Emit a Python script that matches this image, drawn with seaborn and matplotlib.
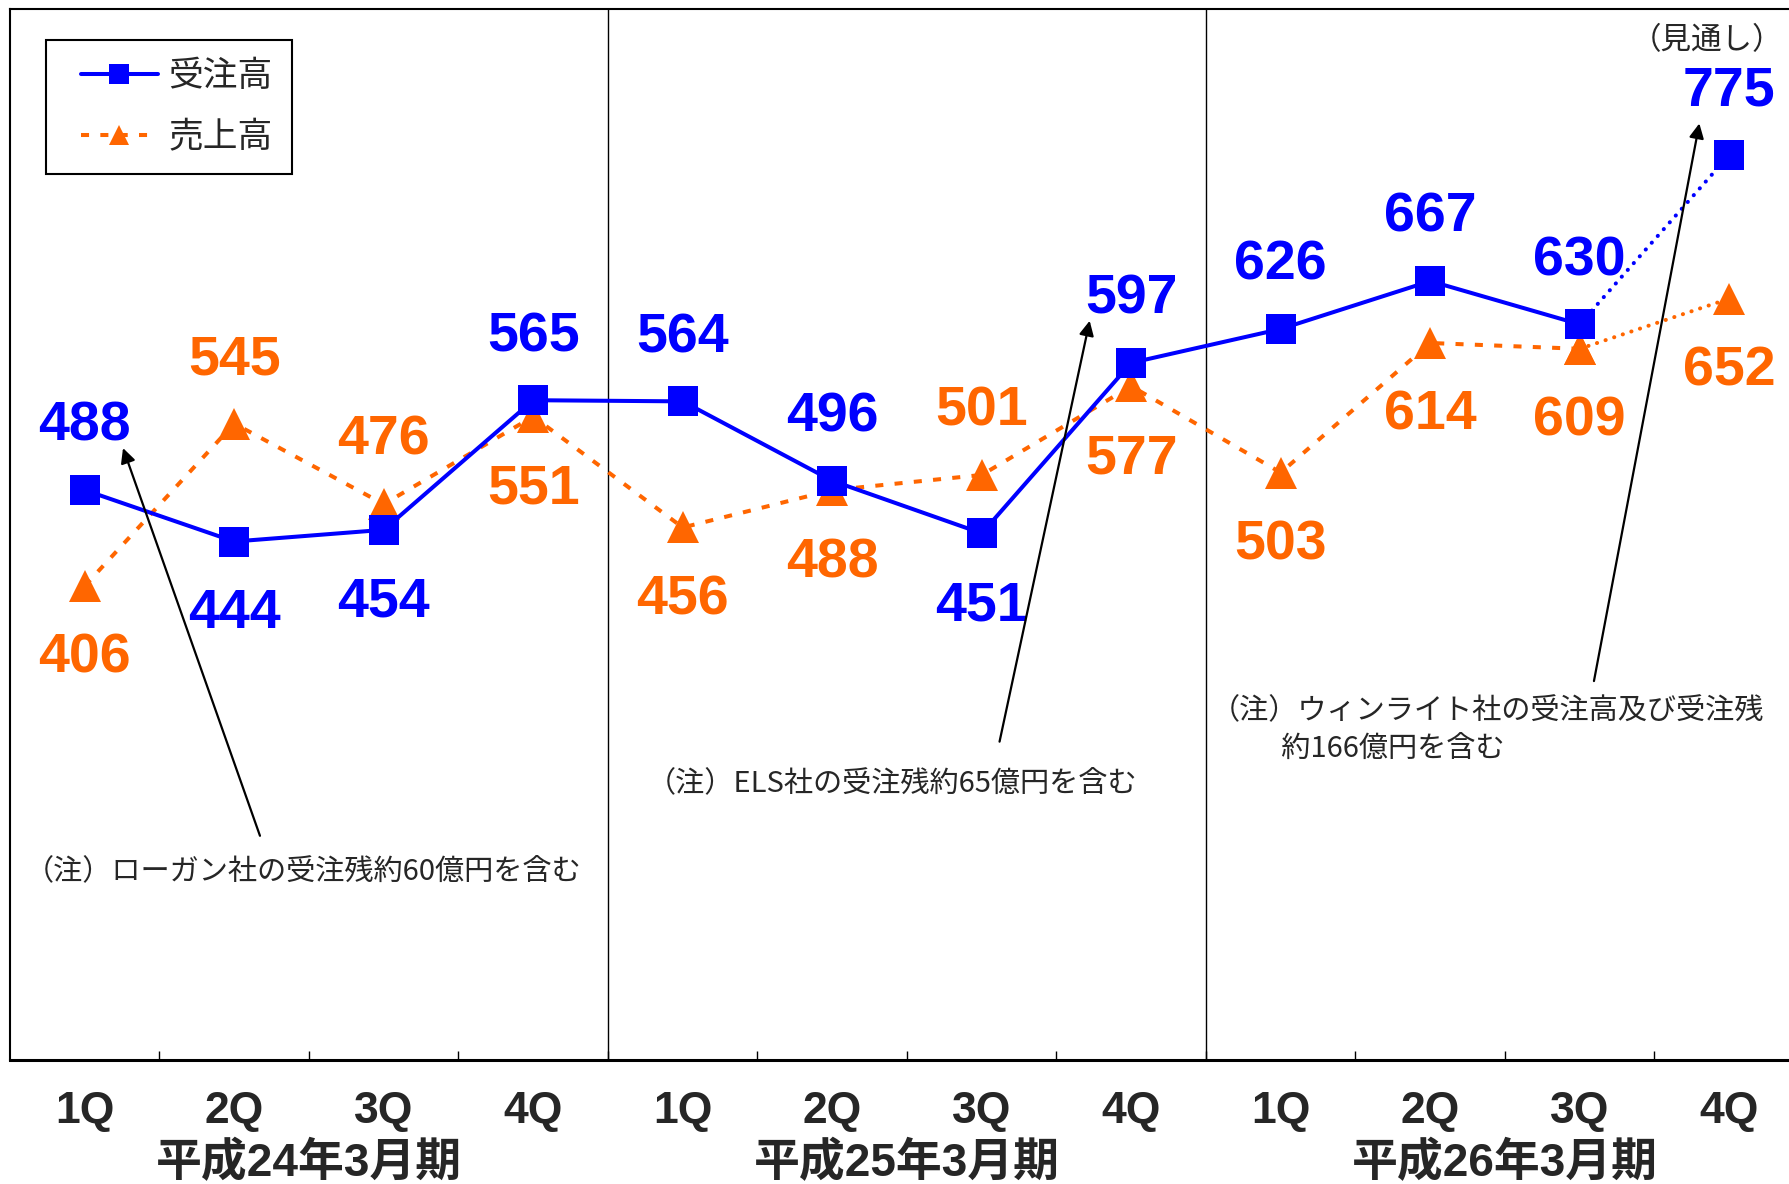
import matplotlib
matplotlib.use("Agg")
import matplotlib.pyplot as plt
from matplotlib.lines import Line2D
from matplotlib.legend_handler import HandlerLine2D
import seaborn as sns
import pandas as pd
import numpy as np

# ---------------- data ----------------
quarters = ["1Q", "2Q", "3Q", "4Q", "1Q", "2Q", "3Q", "4Q", "1Q", "2Q", "3Q", "4Q"]
periods = ["平成24年3月期", "平成25年3月期", "平成26年3月期"]
orders = [488, 444, 454, 565, 564, 496, 451, 597, 626, 667, 630, 775]   # 受注高
sales = [406, 545, 476, 551, 456, 488, 501, 577, 503, 614, 609, 652]    # 売上高
series_names = ["受注高", "売上高"]
forecast_label = "（見通し）"
notes = [
    "（注）ローガン社の受注残約60億円を含む",
    "（注）ELS社の受注残約65億円を含む",
    "（注）ウィンライト社の受注高及び受注残\n\u3000\u3000  約166億円を含む",
]

# ---------------- style ----------------
BLUE = "#0000FF"
ORANGE = "#FF6600"
LAT = ["Liberation Sans", "DejaVu Sans"]
CJK = ["Noto Sans CJK JP", "DejaVu Sans"]
MIX = ["Liberation Sans", "Noto Sans CJK JP", "DejaVu Sans"]

sns.set_style("white")
plt.rcParams["font.family"] = CJK

W, H = 1789, 1184
fig = plt.figure(figsize=(W / 100, H / 100), dpi=100)
ax = fig.add_axes([10 / W, 1 - 1060 / H, 1794 / W, 1051 / H])

x = np.arange(len(quarters))
df = pd.DataFrame({"x": x, "orders": orders, "sales": sales})
actual = df.iloc[:11]
forecast = df.iloc[10:]

lw = 2.9
# 受注高 (actual, solid)
sns.lineplot(data=actual, x="x", y="orders", ax=ax, color=BLUE, lw=lw,
             marker="s", ms=21, mec=BLUE, mew=0, label=series_names[0],
             legend=False, zorder=4)
# 受注高 forecast (dotted)
sns.lineplot(data=forecast, x="x", y="orders", ax=ax, color=BLUE, lw=lw,
             ls=(0, (0.05, 2.2)), dash_capstyle="round",
             marker="s", ms=21, mec=BLUE, mew=0, legend=False, zorder=4)
# 売上高 (actual, dashed)
sns.lineplot(data=actual, x="x", y="sales", ax=ax, color=ORANGE, lw=lw,
             ls=(0, (2.0, 2.8)), marker="^", ms=23, mec=ORANGE, mew=0,
             label=series_names[1], legend=False, zorder=3)
# 売上高 forecast (dotted)
sns.lineplot(data=forecast, x="x", y="sales", ax=ax, color=ORANGE, lw=lw,
             ls=(0, (0.05, 2.2)), dash_capstyle="round",
             marker="^", ms=23, mec=ORANGE, mew=0, legend=False, zorder=3)

# value labels (+1 above, -1 below)
order_side = [1, -1, -1, 1, 1, 1, -1, 1, 1, 1, 1, 1]
sales_side = [-1, 1, 1, -1, -1, -1, 1, -1, -1, -1, -1, -1]
OFF = 49
SHIFT = -3.5
for i, (v, s) in enumerate(zip(orders, order_side)):
    ax.annotate(str(v), (x[i], v), xytext=(0, s * OFF + SHIFT), textcoords="offset points",
                ha="center", va="center", color=BLUE, fontsize=40,
                fontweight="bold", family=LAT, zorder=5)
for i, (v, s) in enumerate(zip(sales, sales_side)):
    ax.annotate(str(v), (x[i], v), xytext=(0, s * OFF + SHIFT), textcoords="offset points",
                ha="center", va="center", color=ORANGE, fontsize=40,
                fontweight="bold", family=LAT, zorder=5)

# axes
ax.set_xlim(-0.5, 11.5)
ax.set_ylim(0, 900)
ax.set_xlabel("")
ax.set_ylabel("")
ax.set_yticks([])
ax.set_xticks(x)
ax.set_xticklabels(quarters, fontsize=32, fontweight="bold", family=LAT)
ax.set_xticks(np.arange(0.5, 11, 1), minor=True)
ax.tick_params(axis="x", which="major", length=0, pad=22)
ax.tick_params(axis="x", which="minor", direction="in", length=6.5, width=1.0,
               color="black", bottom=True)
for name, sp in ax.spines.items():
    sp.set_color("black")
    sp.set_linewidth(1.5)
ax.spines["bottom"].set_linewidth(2.2)

# year separators
for b in (3.5, 7.5):
    ax.axvline(b, color="black", lw=1.0, zorder=2)

# period labels
for k, p in enumerate(periods):
    ax.text(1.5 + 4 * k, -0.099, p, transform=ax.get_xaxis_transform(),
            ha="center", va="center", fontsize=33, fontweight="bold", family=MIX)

# notes with arrows
arrow_kw = dict(arrowstyle="-|>", color="black", lw=1.6, mutation_scale=22,
                shrinkA=0, shrinkB=0)
ax.annotate("", xy=(0.256, 524), xytext=(1.172, 192), arrowprops=arrow_kw, zorder=6)
ax.annotate("", xy=(6.722, 633), xytext=(6.119, 272.6), arrowprops=arrow_kw, zorder=6)
ax.annotate("", xy=(10.80, 802), xytext=(10.095, 324.5), arrowprops=arrow_kw, zorder=6)

ax.text(-0.40, 162, notes[0], ha="left", va="center", fontsize=21, family=CJK)
ax.text(3.76, 237, notes[1], ha="left", va="center", fontsize=21, family=CJK)
ax.text(7.53, 282.5, notes[2], ha="left", va="center", fontsize=21, family=CJK,
        linespacing=1.35)
ax.text(11.36, 873, forecast_label, ha="right", va="center", fontsize=22,
        family=CJK, clip_on=False)

# legend
handles = [
    Line2D([], [], color=BLUE, lw=lw, marker="s", ms=14, mew=0),
    Line2D([], [], color=ORANGE, lw=lw, ls=(0, (2.0, 2.8)), marker="^", ms=15, mew=0),
]
leg = ax.legend(handles, series_names, loc="upper left",
                bbox_to_anchor=(46 / W, 1 - 40 / H), bbox_transform=fig.transFigure,
                borderaxespad=0, frameon=True, fancybox=False, shadow=False,
                fontsize=25, borderpad=0.55, handlelength=2.68, handletextpad=0.3,
                labelspacing=0.75,
                handler_map={Line2D: HandlerLine2D(xpad=0.45)})
leg.get_frame().set_edgecolor("black")
leg.get_frame().set_linewidth(1.5)
leg.get_frame().set_alpha(1)

fig.savefig("out.png", dpi=100)
